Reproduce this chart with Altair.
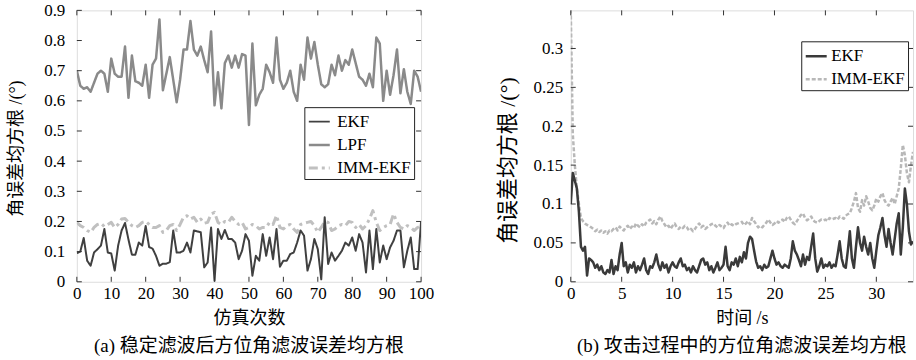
import altair as alt
import pandas as pd

SERIF = "'Liberation Serif', 'Times New Roman', 'Noto Sans CJK SC', serif"

# ---------------- panel (a) data ----------------
runs = list(range(101))
lpf_a = [0.70, 0.65, 0.64, 0.645, 0.63, 0.66, 0.69, 0.70, 0.69, 0.63,
         0.74, 0.69, 0.68, 0.68, 0.78, 0.61, 0.75, 0.665, 0.66, 0.65,
         0.72, 0.61, 0.72, 0.74, 0.87, 0.635, 0.69, 0.745, 0.67, 0.595,
         0.67, 0.77, 0.77, 0.865, 0.77, 0.75, 0.78, 0.735, 0.695, 0.83,
         0.585, 0.695, 0.575, 0.725, 0.75, 0.71, 0.75, 0.71, 0.755, 0.75,
         0.52, 0.79, 0.585, 0.62, 0.64, 0.72, 0.695, 0.66, 0.81, 0.67,
         0.64, 0.66, 0.70, 0.63, 0.60, 0.72, 0.67, 0.81, 0.74, 0.795,
         0.72, 0.655, 0.645, 0.655, 0.72, 0.685, 0.75, 0.70, 0.735, 0.72,
         0.77, 0.725, 0.68, 0.67, 0.65, 0.69, 0.645, 0.81, 0.79, 0.60,
         0.70, 0.62, 0.685, 0.77, 0.625, 0.705, 0.63, 0.59, 0.70, 0.68, 0.63]
ekf_a = [0.095, 0.10, 0.145, 0.07, 0.053, 0.097, 0.108, 0.12, 0.175, 0.097,
         0.094, 0.037, 0.12, 0.17, 0.195, 0.14, 0.09, 0.09, 0.13, 0.12,
         0.185, 0.115, 0.11, 0.086, 0.053, 0.06, 0.06, 0.065, 0.17, 0.097,
         0.097, 0.103, 0.13, 0.097, 0.17, 0.167, 0.164, 0.048, 0.064, 0.18,
         0.003, 0.175, 0.142, 0.172, 0.142, 0.142, 0.13, 0.075, 0.103, 0.158,
         0.136, 0.02, 0.086, 0.07, 0.158, 0.086, 0.147, 0.075, 0.175, 0.05,
         0.07, 0.07, 0.092, 0.097, 0.13, 0.17, 0.153, 0.037, 0.075, 0.142,
         0.108, 0.008, 0.214, 0.059, 0.097, 0.07, 0.086, 0.103, 0.13, 0.12,
         0.147, 0.103, 0.158, 0.13, 0.031, 0.17, 0.042, 0.175, 0.064, 0.12,
         0.075, 0.114, 0.136, 0.17, 0.17, 0.048, 0.103, 0.147, 0.042, 0.042, 0.2]
imm_a = [0.197, 0.186, 0.18, 0.17, 0.164, 0.18, 0.19, 0.194, 0.183, 0.19,
         0.197, 0.18, 0.19, 0.208, 0.21, 0.197, 0.186, 0.18, 0.186, 0.197,
         0.2, 0.19, 0.18, 0.18, 0.186, 0.164, 0.17, 0.186, 0.19, 0.17,
         0.19, 0.214, 0.219, 0.208, 0.214, 0.197, 0.208, 0.194, 0.197, 0.225,
         0.23, 0.197, 0.19, 0.2, 0.197, 0.214, 0.2, 0.19, 0.197, 0.175,
         0.18, 0.19, 0.186, 0.175, 0.18, 0.18, 0.197, 0.19, 0.22, 0.18,
         0.175, 0.186, 0.19, 0.175, 0.164, 0.19, 0.194, 0.197, 0.2, 0.186,
         0.164, 0.18, 0.2, 0.197, 0.17, 0.175, 0.186, 0.19, 0.186, 0.2,
         0.197, 0.18, 0.19, 0.175, 0.186, 0.208, 0.236, 0.197, 0.17, 0.18,
         0.186, 0.19, 0.225, 0.197, 0.18, 0.175, 0.186, 0.18, 0.17, 0.18, 0.186]

names_a = ["EKF", "LPF", "IMM-EKF"]
xticks_a = [0, 10, 20, 30, 40, 50, 60, 70, 80, 90, 100]
yticks_a = [0, 0.1, 0.2, 0.3, 0.4, 0.5, 0.6, 0.7, 0.8, 0.9]

# ---------------- panel (b) data ----------------
ekf_b = [0.10, 0.14, 0.13, 0.12, 0.09, 0.045, 0.04, 0.045, 0.008, 0.03,
         0.028, 0.025, 0.018, 0.022, 0.015, 0.02, 0.012, 0.01, 0.015, 0.012,
         0.028, 0.01, 0.02, 0.015, 0.035, 0.05, 0.02, 0.025, 0.012, 0.022,
         0.018, 0.025, 0.012, 0.02, 0.015, 0.022, 0.03, 0.015, 0.01, 0.02,
         0.018, 0.025, 0.035, 0.022, 0.015, 0.025, 0.018, 0.022, 0.012, 0.02,
         0.025, 0.02, 0.018, 0.025, 0.03, 0.02, 0.022, 0.015, 0.018, 0.012,
         0.02, 0.015, 0.012, 0.02, 0.028, 0.03, 0.022, 0.025, 0.015, 0.02,
         0.012, 0.018, 0.025, 0.015, 0.018, 0.022, 0.045, 0.02, 0.015, 0.025,
         0.022, 0.03, 0.02, 0.032, 0.025, 0.038, 0.03, 0.05, 0.058, 0.055,
         0.04, 0.026, 0.018, 0.02, 0.015, 0.022, 0.018, 0.02, 0.03, 0.04,
         0.03, 0.022, 0.025, 0.02, 0.018, 0.022, 0.02, 0.018, 0.03, 0.052,
         0.04, 0.035, 0.028, 0.02, 0.035, 0.022, 0.032, 0.028, 0.045, 0.062,
         0.03, 0.013, 0.02, 0.03, 0.018, 0.022, 0.02, 0.025, 0.018, 0.022,
         0.02, 0.035, 0.052, 0.03, 0.02, 0.018, 0.04, 0.065, 0.03, 0.018,
         0.045, 0.07, 0.05, 0.04, 0.058, 0.045, 0.035, 0.05, 0.03, 0.018,
         0.04, 0.06, 0.07, 0.082, 0.06, 0.045, 0.068, 0.05, 0.035, 0.055,
         0.075, 0.088, 0.035, 0.07, 0.12, 0.1, 0.065, 0.048, 0.052]
imm_b = [0.35, 0.19, 0.15, 0.12, 0.10, 0.082, 0.078, 0.075, 0.073, 0.072,
         0.07, 0.068, 0.065, 0.067, 0.064, 0.066, 0.063, 0.065, 0.062, 0.066,
         0.065, 0.068, 0.07, 0.066, 0.071, 0.068, 0.066, 0.07, 0.072, 0.068,
         0.071, 0.069, 0.075, 0.072, 0.07, 0.074, 0.071, 0.076, 0.078, 0.08,
         0.075, 0.078, 0.074, 0.08, 0.084, 0.078, 0.074, 0.07, 0.072, 0.068,
         0.072, 0.075, 0.07, 0.068, 0.071, 0.069, 0.072, 0.07, 0.066, 0.068,
         0.065, 0.068, 0.072, 0.075, 0.07, 0.072, 0.068, 0.07, 0.072, 0.074,
         0.075, 0.072, 0.07, 0.073, 0.071, 0.069, 0.074, 0.076, 0.072, 0.074,
         0.072, 0.074, 0.075, 0.076, 0.077, 0.073, 0.075, 0.078, 0.074, 0.082,
         0.078, 0.074, 0.07, 0.072, 0.07, 0.073, 0.076, 0.08, 0.076, 0.073,
         0.075, 0.078, 0.076, 0.079, 0.08, 0.077, 0.082, 0.084, 0.08, 0.076,
         0.074, 0.078, 0.082, 0.086, 0.088, 0.082, 0.079, 0.081, 0.084, 0.079,
         0.077, 0.076, 0.078, 0.08, 0.079, 0.08, 0.078, 0.082, 0.08, 0.081,
         0.082, 0.08, 0.084, 0.083, 0.081, 0.085, 0.087, 0.088, 0.095, 0.103,
         0.114, 0.095, 0.09, 0.105, 0.098, 0.11, 0.103, 0.095, 0.092, 0.098,
         0.107, 0.103, 0.11, 0.114, 0.105, 0.1, 0.098, 0.103, 0.108, 0.1,
         0.11, 0.12, 0.146, 0.176, 0.163, 0.14, 0.128, 0.15, 0.167]
time_b = [round(0.2 * k, 1) for k in range(len(ekf_b))]

names_b = ["EKF", "IMM-EKF"]
xticks_b = [0, 5, 10, 15, 20, 25, 30]
yticks_b = [0, 0.05, 0.1, 0.15, 0.2, 0.25, 0.3]

# ---------------- helpers ----------------
W_A, W_B, H = 345, 343, 272


def frame_ticks(xname, yname, xvals, yvals, X, Y, W, Hh, L=5):
    dx = pd.DataFrame({xname: xvals})
    dy = pd.DataFrame({yname: yvals})
    r = dict(color="#333333", strokeWidth=1)
    return [
        alt.Chart(dx).mark_rule(**r).encode(x=X, y=alt.value(Hh), y2=alt.value(Hh - L)),
        alt.Chart(dx).mark_rule(**r).encode(x=X, y=alt.value(0), y2=alt.value(L)),
        alt.Chart(dy).mark_rule(**r).encode(y=Y, x=alt.value(0), x2=alt.value(L)),
        alt.Chart(dy).mark_rule(**r).encode(y=Y, x=alt.value(W), x2=alt.value(W - L)),
    ]


def x_axis(values, title):
    return alt.Axis(values=values, title=title, grid=False, domain=False, ticks=False,
                    labelPadding=4, labelFont=SERIF, labelFontSize=17, labelColor="black",
                    labelFlush=False, labelOverlap=False,
                    titleFont=SERIF, titleFontSize=18, titleFontWeight="normal",
                    titleColor="black", titlePadding=8)


def y_axis(values, title, pad, tfs, ty):
    return alt.Axis(values=values, title=title, grid=False, domain=False, ticks=False,
                    labelPadding=pad, labelFont=SERIF, labelFontSize=17, labelColor="black",
                    labelOverlap=False, labelExpr="toString(datum.value)",
                    titleFont=SERIF, titleFontSize=tfs, titleFontWeight="normal",
                    titleColor="black", titleX=-51, titleY=ty)


def legend(x, y, off):
    return alt.Legend(title=None, orient="none", legendX=x, legendY=y, direction="vertical",
                      strokeColor="#222222", fillColor="white", padding=3, cornerRadius=0,
                      labelFont=SERIF, labelFontSize=17, labelColor="black",
                      symbolType="stroke", symbolSize=441, labelOffset=off, rowPadding=3)


# ---------------- panel (a) ----------------
df_a = pd.concat([
    pd.DataFrame({"run": runs, "value": imm_a, "series": "IMM-EKF"}),
    pd.DataFrame({"run": runs, "value": lpf_a, "series": "LPF"}),
    pd.DataFrame({"run": runs, "value": ekf_a, "series": "EKF"}),
])
xs_a = alt.Scale(domain=[0, 100], nice=False, zero=False)
ys_a = alt.Scale(domain=[0, 0.9], nice=False)
XA = alt.X("run:Q", scale=xs_a, axis=x_axis(xticks_a, "仿真次数"))
YA = alt.Y("value:Q", scale=ys_a, axis=y_axis(yticks_a, "角误差均方根 /(°)", 12, 18, 138))
leg_a = legend(228, 97, 6)
line_a = alt.Chart(df_a).mark_line(clip=True, strokeJoin="round").encode(
    x=XA, y=YA,
    color=alt.Color("series:N", scale=alt.Scale(domain=names_a, range=["#404040", "#8a8a8a", "#c0c0c0"]), legend=leg_a),
    strokeDash=alt.StrokeDash("series:N", scale=alt.Scale(domain=names_a, range=[[1, 0], [1, 0], [9, 4, 3, 4]]), legend=leg_a),
    strokeWidth=alt.StrokeWidth("series:N", scale=alt.Scale(domain=names_a, range=[2, 3, 3]), legend=leg_a),
)
panel_a = alt.layer(line_a, *frame_ticks("run", "value", xticks_a, yticks_a, XA, YA, W_A, H)).properties(
    width=W_A, height=H,
    title=alt.TitleParams("(a) 稳定滤波后方位角滤波误差均方根", orient="bottom", anchor="middle",
                          font=SERIF, fontSize=19, fontWeight="normal", color="black", offset=9),
)

# ---------------- panel (b) ----------------
df_b = pd.concat([
    pd.DataFrame({"t": time_b, "value": imm_b, "series": "IMM-EKF"}),
    pd.DataFrame({"t": time_b, "value": ekf_b, "series": "EKF"}),
])
xs_b = alt.Scale(domain=[0, 33.6], nice=False, zero=False)
ys_b = alt.Scale(domain=[0, 0.349], nice=False)
XB = alt.X("t:Q", scale=xs_b, axis=x_axis(xticks_b, "时间 /s"))
YB = alt.Y("value:Q", scale=ys_b, axis=y_axis(yticks_b, "角误差均方根 /(°)", 8, 22, 150))
leg_b = legend(231, 31, 3)
line_b = alt.Chart(df_b).mark_line(clip=True, strokeJoin="round").encode(
    x=XB, y=YB,
    color=alt.Color("series:N", scale=alt.Scale(domain=names_b, range=["#3a3a3a", "#b8b8b8"]), legend=leg_b),
    strokeDash=alt.StrokeDash("series:N", scale=alt.Scale(domain=names_b, range=[[1, 0], [4, 2]]), legend=leg_b),
    strokeWidth=alt.StrokeWidth("series:N", scale=alt.Scale(domain=names_b, range=[2.5, 2.5]), legend=leg_b),
)
panel_b = alt.layer(line_b, *frame_ticks("t", "value", xticks_b, yticks_b, XB, YB, W_B, H)).properties(
    width=W_B, height=H,
    title=alt.TitleParams("(b) 攻击过程中的方位角滤波误差均方根", orient="bottom", anchor="middle",
                          font=SERIF, fontSize=19, fontWeight="normal", color="black", offset=9),
)

chart = alt.hconcat(panel_a, panel_b, spacing=150, bounds="flush").resolve_scale(
    color="independent", strokeDash="independent", strokeWidth="independent",
    x="independent", y="independent",
).properties(
    padding={"left": 7, "top": 0, "right": 2, "bottom": 0},
    background="white",
).configure_view(stroke="#333333", strokeWidth=1).configure(font=SERIF)

chart.save("out.html", embed_options={"renderer": "svg", "actions": False})
